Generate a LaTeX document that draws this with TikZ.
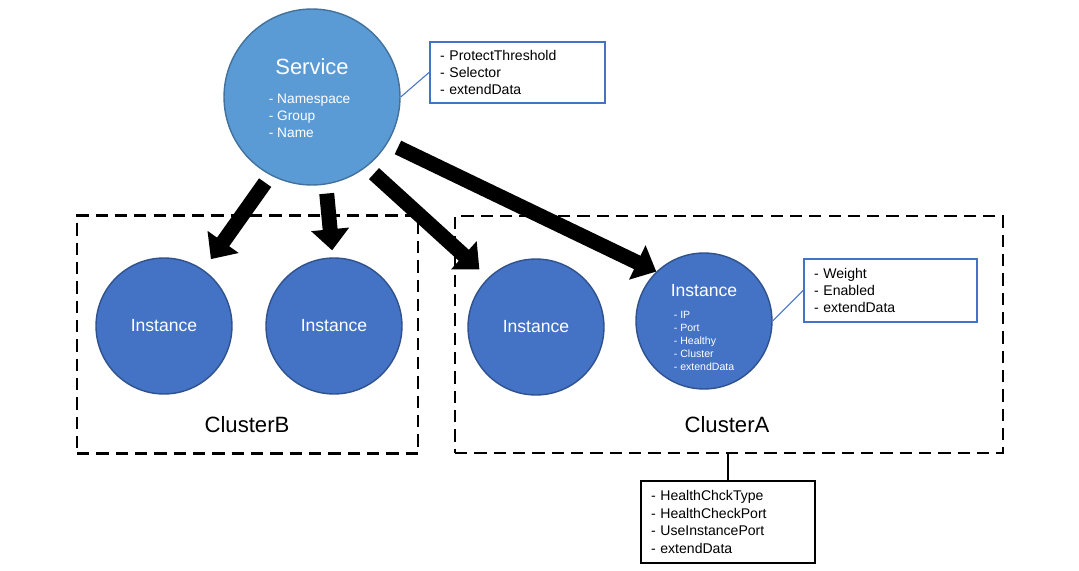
\documentclass[tikz,border=0pt]{standalone}
\usepackage{fontspec}
\setmainfont{Liberation Sans}
\usetikzlibrary{arrows.meta}
\definecolor{svcfill}{HTML}{5B9BD5}
\definecolor{svcline}{HTML}{41719C}
\definecolor{instfill}{HTML}{4472C4}
\definecolor{instline}{HTML}{2F528F}
\definecolor{boxline}{HTML}{4472C4}

\begin{document}
\begin{tikzpicture}[x=0.02cm,y=-0.02cm,line width=1.0pt,
  svc/.style={circle,draw=svcline,fill=svcfill,line width=0.8pt,minimum size=3.52cm,inner sep=0pt},
  inst/.style={circle,draw=instline,fill=instfill,line width=0.8pt,minimum size=2.72cm,inner sep=0pt,text=white,font=\fontsize{10}{12}\selectfont},
  grp/.style={draw,line width=1.4pt,dash pattern=on 7pt off 4pt,inner sep=0pt},
  attr/.style={draw=boxline,line width=1.1pt,fill=white,align=left,inner xsep=0.2cm,inner ysep=0pt,font=\fontsize{8}{9.6}\selectfont},
  lst/.style={text=white,anchor=west,align=left,inner sep=0pt},
  arr/.style={line width=8.5pt,-{Triangle[length=12pt,width=21pt]}}]
\useasboundingbox (0,0) rectangle (1079,571);
% clusters
\node[grp,minimum width=6.82cm,minimum height=4.76cm] (clB) at (247.5,334.5) {};
\node[grp,minimum width=10.96cm,minimum height=4.74cm] (clA) at (729,334.5) {};
\node[font=\fontsize{12.6}{15}\selectfont] (clBl) at (247,425) {ClusterB};
\node[font=\fontsize{12.6}{15}\selectfont] (clAl) at (727,425) {ClusterA};
% service
\node[svc] (svc) at (312,97) {};
\node[text=white,font=\fontsize{12.5}{15}\selectfont] (svct) at (312,67) {Service};
\node[lst,font=\fontsize{7.8}{9.6}\selectfont] (svcl) at (268,116) {- Namespace\\- Group\\- Name};
% instances
\node[inst] (b1) at (164,326) {Instance};
\node[inst] (b2) at (334,326) {Instance};
\node[inst] (a1) at (536,327) {Instance};
\node[inst] (a2) at (704,321) {};
\node[text=white,font=\fontsize{10}{12}\selectfont] (a2t) at (704,291) {Instance};
\node[lst,font=\fontsize{6}{7.4}\selectfont] (a2l) at (673,341) {- IP\\- Port\\- Healthy\\- Cluster\\- extendData};
% attribute boxes
\node[attr,text width=3.1cm,minimum height=1.22cm] (ptbox) at (517.5,72.5) {- ProtectThreshold\\- Selector\\- extendData};
\node[attr,text width=3.06cm,minimum height=1.26cm] (wbox) at (890.5,290.5) {- Weight\\- Enabled\\- extendData};
\node[attr,draw=black,line width=1.6pt,text width=3.08cm,minimum height=1.64cm,font=\fontsize{8}{10}\selectfont] (hbox) at (728,522) {- HealthChckType\\- HealthCheckPort\\- UseInstancePort\\- extendData};
\draw[boxline,line width=0.6pt] (svc.east) -- (ptbox.west);
\draw[boxline,line width=0.6pt] (a2.east) -- (wbox.west);
\draw[line width=0.6pt] (hbox.north) -- (hbox.north |- clA.south);
% arrows
\draw[arr,shorten <=0.18cm,shorten >=0.26cm] (svc.242) -- (b1.55);
\draw[arr,shorten <=0.18cm,shorten >=0.14cm] (svc.-81) -- (b2.91.5);
\draw[arr,shorten <=0.2cm,shorten >=0.24cm] (svc.-52) -- (a1.134.5);
\draw[arr,shorten <=0.22cm] (svc.-31) -- (a2.134);
\end{tikzpicture}
\end{document}
